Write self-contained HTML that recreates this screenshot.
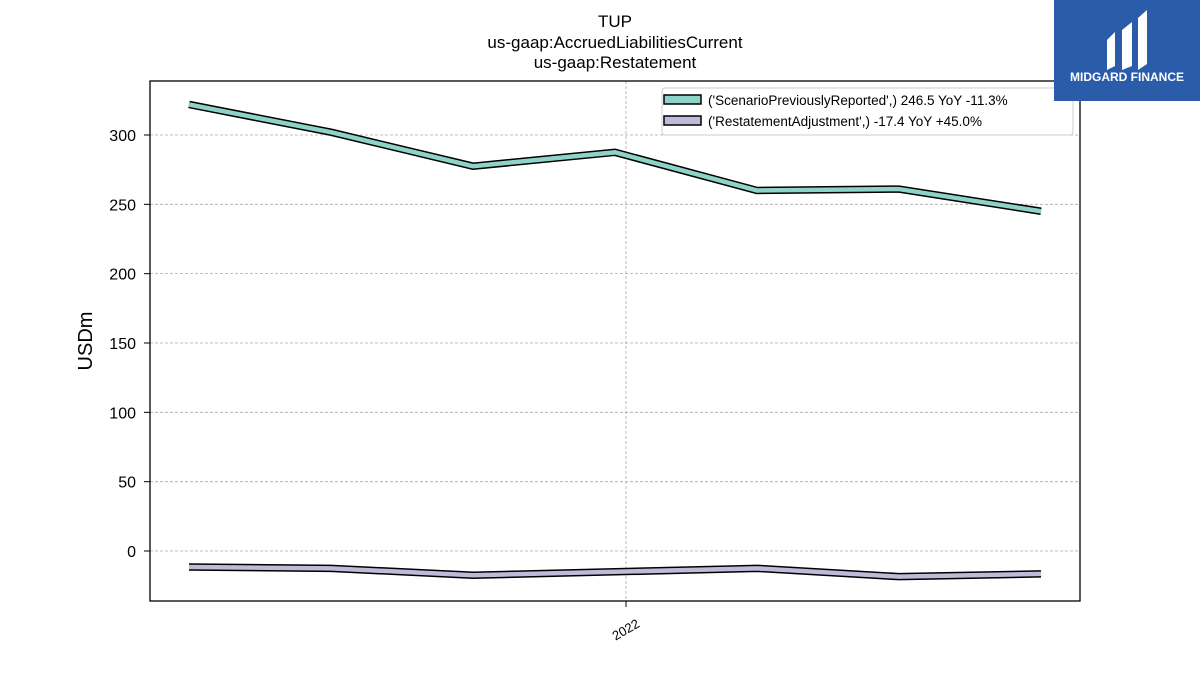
<!DOCTYPE html>
<html><head><meta charset="utf-8"><style>
body{margin:0;background:#fff;width:1200px;height:675px;overflow:hidden;font-family:"Liberation Sans","DejaVu Sans",sans-serif}
</style></head><body>
<svg width="1200" height="675" viewBox="0 0 1200 675" xmlns="http://www.w3.org/2000/svg">
<g font-size="17" text-anchor="middle" fill="#000">
<text x="615" y="27">TUP</text>
<text x="615" y="48">us-gaap:AccruedLiabilitiesCurrent</text>
<text x="615" y="68">us-gaap:Restatement</text>
</g>
<g id="grid"></g>
<g id="yticks"></g>
<text x="92" y="341" font-size="20" text-anchor="middle" transform="rotate(-90 92 341)">USDm</text>
<g id="series"></g>
<rect x="150" y="81" width="930" height="520" fill="none" stroke="#000" stroke-width="1.3"/>
<line x1="626" y1="601" x2="626" y2="607" stroke="#000"/>
<text x="626" y="634" font-size="13" text-anchor="middle" transform="rotate(-30 626 630)">2022</text>
<g>
<rect x="662" y="88" width="411" height="47" fill="#fff" stroke="#ccc" rx="3"/>
<rect x="664" y="95" width="37" height="9" fill="#8dd3c7" stroke="#000" stroke-width="1.5"/>
<text x="708" y="105" font-size="13.5">('ScenarioPreviouslyReported',) 246.5 YoY -11.3%</text>
<rect x="664" y="116" width="37" height="9" fill="#bebada" stroke="#000" stroke-width="1.5"/>
<text x="708" y="126" font-size="13.5">('RestatementAdjustment',) -17.4 YoY +45.0%</text>
</g>
<g>
<rect x="1054" y="0" width="146" height="101" fill="#2a5caa"/>
<path d="M1107 40 L1115 32 L1115 66 L1107 70 Z M1122 30 L1132 22 L1132 66 L1122 70 Z M1138 18 L1147 10 L1147 64 L1138 70 Z" fill="#fff"/>
<text x="1127" y="81" font-size="12" font-weight="bold" fill="#fff" text-anchor="middle">MIDGARD FINANCE</text>
</g>
</svg>
<script>
const xIndex=[0,1,2,3,4,5,6];
const prevReported=[322,302,277.5,287.5,260,261,245];
const restAdj=[-11.5,-12.5,-17.5,-15,-12.5,-18.5,-16.5];
const yTicks=[0,50,100,150,200,250,300];
const NS="http://www.w3.org/2000/svg";
const X=i=>189+i*142;
const Y=v=>551-v*1.3867;
const grid=document.getElementById('grid'),yt=document.getElementById('yticks'),ser=document.getElementById('series');
function mk(t,a,p){const e=document.createElementNS(NS,t);for(const k in a)e.setAttribute(k,a[k]);p.appendChild(e);return e;}
yTicks.forEach(v=>{
 const g=mk('line',{x1:150,x2:1080,y1:Y(v),y2:Y(v),stroke:'#aaa','stroke-dasharray':'3,2','stroke-width':0.8},grid);
 
 
 mk('line',{x1:144,x2:150,y1:Y(v),y2:Y(v),stroke:'#000'},yt);
 const t=mk('text',{x:136,y:Y(v)+6,'font-size':16,'text-anchor':'end'},yt);
 t.textContent=v;
 
 
});
const vg=mk('line',{x1:626,x2:626,y1:81,y2:601,stroke:'#aaa','stroke-dasharray':'3,2','stroke-width':0.8},grid);


function line(vals,col,name){
 const pts=xIndex.map(i=>X(i)+','+Y(vals[i])).join(' ');
 const g=mk('g',{},ser);
 
 
 mk('polyline',{points:pts,fill:'none',stroke:'#000','stroke-width':7.5},g);
 mk('polyline',{points:pts,fill:'none',stroke:col,'stroke-width':4.5},g);
}
line(prevReported,'#8dd3c7','line-previously-reported');
line(restAdj,'#bebada','line-restatement-adjustment');
</script>
</body></html>
